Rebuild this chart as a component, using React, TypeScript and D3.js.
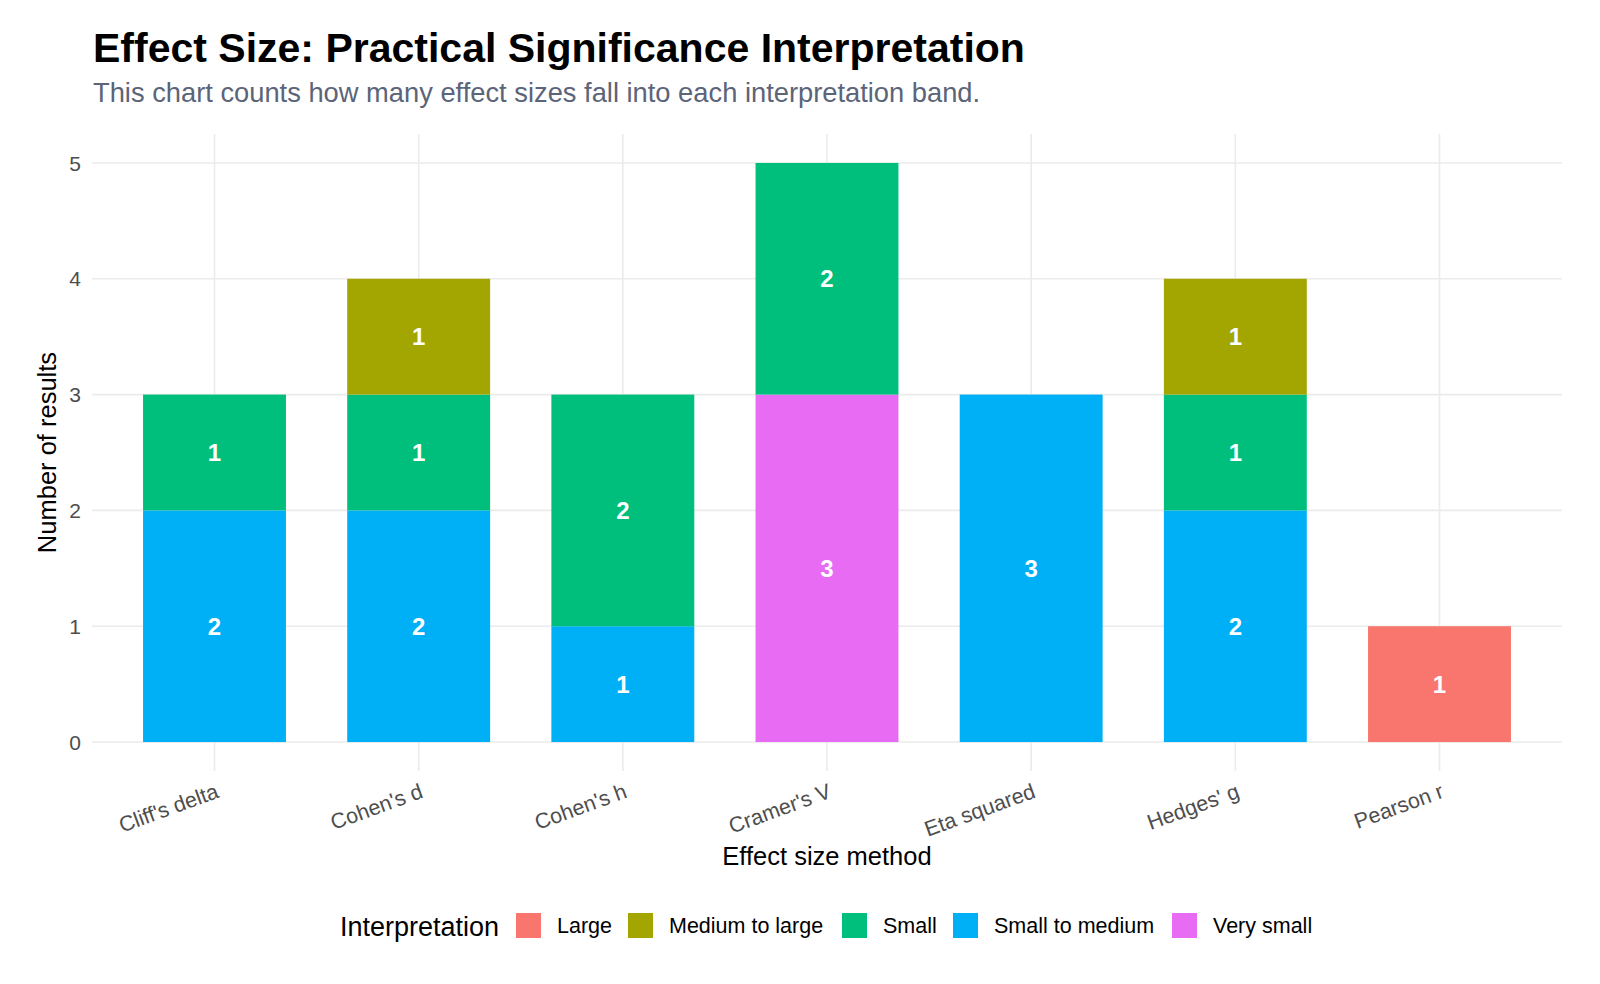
import { useEffect, useRef } from 'react';
import * as d3 from 'd3';

const methods = ["Cliff's delta", "Cohen's d", "Cohen's h", "Cramer's V", "Eta squared", "Hedges' g", "Pearson r"];
const bands = ["Large", "Medium to large", "Small", "Small to medium", "Very small"];
const bandColors = ["#F8766D", "#A3A500", "#00BF7D", "#00B0F6", "#E76BF3"];

// counts per method, one array per band (same order as methods)
const largeCounts = [0, 0, 0, 0, 0, 0, 1];
const mediumLargeCounts = [0, 1, 0, 0, 0, 1, 0];
const smallCounts = [1, 1, 2, 2, 0, 1, 0];
const smallMediumCounts = [2, 2, 1, 0, 3, 2, 0];
const verySmallCounts = [0, 0, 0, 3, 0, 0, 0];

const yTicks = [0, 1, 2, 3, 4, 5];

const font = "'Liberation Sans', Arial, sans-serif";

const App = () => {
    const ref = useRef<SVGSVGElement>(null);

    useEffect(() => {
        const svg = d3.select(ref.current);
        svg.selectAll("*").remove();

        const panel = { left: 92, right: 1562, top: 134, bottom: 771 };

        const rows = methods.map((m, i) => ({
            method: m,
            "Large": largeCounts[i],
            "Medium to large": mediumLargeCounts[i],
            "Small": smallCounts[i],
            "Small to medium": smallMediumCounts[i],
            "Very small": verySmallCounts[i],
        }));

        // ggplot stacks the last level at the bottom
        const stackKeys = bands.slice().reverse();
        const series = d3.stack<any>().keys(stackKeys)(rows);

        // discrete axis with 0.6 step of expansion each side
        const step = (panel.right - panel.left) / (methods.length - 1 + 1.2);
        const x = d3.scalePoint().domain(methods)
            .range([panel.left + 0.6 * step, panel.right - 0.6 * step]);
        const xc = (m: string) => x(m) as number;
        const barW = step * 0.7;

        const y = d3.scaleLinear().domain([-0.25, 5.25]).range([panel.bottom, panel.top]);
        const color = d3.scaleOrdinal<string, string>().domain(bands).range(bandColors);

        // grid
        const grid = svg.append("g");
        grid.selectAll("line.h").data(yTicks).join("line")
            .attr("x1", panel.left).attr("x2", panel.right)
            .attr("y1", d => y(d)).attr("y2", d => y(d))
            .attr("stroke", "#ebebeb").attr("stroke-width", 1.6);
        grid.selectAll("line.v").data(methods).join("line")
            .attr("x1", d => xc(d)).attr("x2", d => xc(d))
            .attr("y1", panel.top).attr("y2", panel.bottom)
            .attr("stroke", "#ebebeb").attr("stroke-width", 1.6);

        // bars
        series.forEach(s => {
            const key = s.key;
            const g = svg.append("g");
            const segs = s.filter(d => d[1] - d[0] > 0);
            g.selectAll("rect").data(segs).join("rect")
                .attr("x", d => xc(d.data.method) - barW / 2)
                .attr("width", barW)
                .attr("y", d => y(d[1]))
                .attr("height", d => y(d[0]) - y(d[1]))
                .attr("fill", color(key));
            g.selectAll("text").data(segs).join("text")
                .attr("x", d => xc(d.data.method))
                .attr("y", d => y((d[0] + d[1]) / 2))
                .attr("dy", "0.36em")
                .attr("text-anchor", "middle")
                .style("font-family", font).style("font-weight", "bold")
                .style("font-size", "24px").style("fill", "#ffffff")
                .text(d => d[1] - d[0]);
        });

        // y tick labels
        svg.append("g").selectAll("text").data(yTicks).join("text")
            .attr("x", 81).attr("y", d => y(d)).attr("dy", "0.36em")
            .attr("text-anchor", "end")
            .style("font-family", font).style("font-size", "21px").style("fill", "#4d4d4d")
            .text(d => d);

        // x tick labels, rotated
        svg.append("g").selectAll("text").data(methods).join("text")
            .attr("transform", d => `translate(${xc(d)},${782}) rotate(-20)`)
            .attr("dy", "0.75em")
            .attr("text-anchor", "end")
            .style("font-family", font).style("font-size", "21.5px").style("fill", "#4d4d4d")
            .text(d => d);

        // axis titles
        svg.append("text")
            .attr("x", (panel.left + panel.right) / 2).attr("y", 865)
            .attr("text-anchor", "middle")
            .style("font-family", font).style("font-size", "25.5px").style("fill", "#000")
            .text("Effect size method");
        svg.append("text")
            .attr("transform", `translate(56,${(panel.top + panel.bottom) / 2}) rotate(-90)`)
            .attr("text-anchor", "middle")
            .style("font-family", font).style("font-size", "25.5px").style("fill", "#000")
            .text("Number of results");

        // title and subtitle
        svg.append("text")
            .attr("x", 93).attr("y", 62)
            .style("font-family", font).style("font-weight", "bold")
            .style("font-size", "41px").style("fill", "#000")
            .text("Effect Size: Practical Significance Interpretation");
        svg.append("text")
            .attr("x", 93).attr("y", 102)
            .style("font-family", font).style("font-size", "27.3px").style("fill", "#5b6478")
            .text("This chart counts how many effect sizes fall into each interpretation band.");

        // legend
        const legendKeyX = [516, 628, 842, 953, 1172];
        const lg = svg.append("g");
        lg.append("text")
            .attr("x", 340).attr("y", 926).attr("dy", "0.36em")
            .style("font-family", font).style("font-size", "27px").style("fill", "#000")
            .text("Interpretation");
        const items = lg.selectAll("g").data(bands).join("g")
            .attr("transform", (d, i) => `translate(${legendKeyX[i]},913)`);
        items.append("rect").attr("width", 25).attr("height", 25).attr("fill", d => color(d));
        items.append("text")
            .attr("x", 41).attr("y", 12.5).attr("dy", "0.36em")
            .style("font-family", font).style("font-size", "21.5px").style("fill", "#000")
            .text(d => d);
    }, []);

    return (
        <svg ref={ref} width={1600} height={984}
            style={{ position: "absolute", left: 0, top: 0, background: "#fff" }} />
    );
};

export default App;
